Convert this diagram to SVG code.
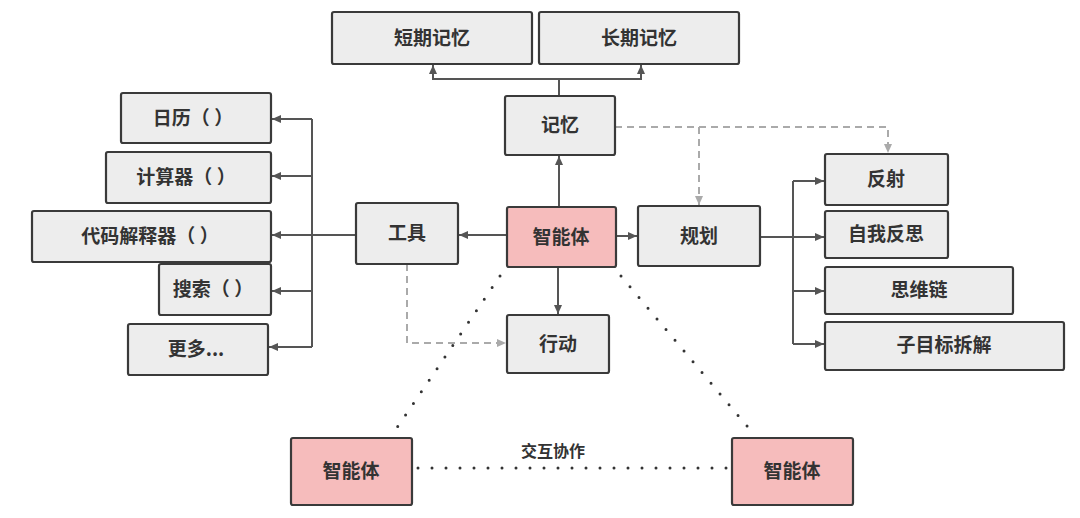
<svg xmlns="http://www.w3.org/2000/svg" width="1080" height="518" viewBox="0 0 1080 518">
<style>
.box{fill:#ededed;stroke:#3a3a3a;stroke-width:2.2}
.pink{fill:#f6bcbc;stroke:#3a3a3a;stroke-width:2.2}
text{font-family:"Noto Sans CJK SC","Noto Sans",sans-serif;font-size:19px;font-weight:600;fill:#333;text-anchor:middle}
.ln{fill:none;stroke:#555;stroke-width:2}
.dash{fill:none;stroke:#aaa;stroke-width:2;stroke-dasharray:7 5}
.dot{fill:none;stroke:#333;stroke-width:3;stroke-linecap:round;stroke-dasharray:0 14}
</style>
<defs>
<marker id="a" markerUnits="userSpaceOnUse" markerWidth="10" markerHeight="10" refX="9" refY="5" orient="auto"><path d="M0,1 L9,5 L0,9 Z" fill="#555"/></marker>
<marker id="ad" markerUnits="userSpaceOnUse" markerWidth="10" markerHeight="10" refX="9" refY="5" orient="auto"><path d="M0,1 L9,5 L0,9 Z" fill="#aaa"/></marker>
</defs>
<rect width="1080" height="518" fill="#fff"/>
<g id="connectors">
<path class="ln" d="M559,96 V79 H433 V65" marker-end="url(#a)"/>
<path class="ln" d="M559,79 H641 V65" marker-end="url(#a)"/>
<path class="ln" d="M559,207 V156" marker-end="url(#a)"/>
<path class="ln" d="M507,235 H459" marker-end="url(#a)"/>
<path class="ln" d="M616,236 H637" marker-end="url(#a)"/>
<path class="ln" d="M558,267 V314" marker-end="url(#a)"/>
<path class="ln" d="M356,235 H272" marker-end="url(#a)"/>
<path class="ln" d="M312,119 V347"/>
<path class="ln" d="M312,119 H272" marker-end="url(#a)"/>
<path class="ln" d="M312,176 H272" marker-end="url(#a)"/>
<path class="ln" d="M312,291 H272" marker-end="url(#a)"/>
<path class="ln" d="M312,347 H269" marker-end="url(#a)"/>
<path class="ln" d="M760,237 H824" marker-end="url(#a)"/>
<path class="ln" d="M793,181 V344"/>
<path class="ln" d="M793,181 H824" marker-end="url(#a)"/>
<path class="ln" d="M793,291 H824" marker-end="url(#a)"/>
<path class="ln" d="M793,344 H824" marker-end="url(#a)"/>
<path class="dash" d="M615,127 H888 V153" marker-end="url(#ad)"/>
<path class="dash" d="M699,127 V205" marker-end="url(#ad)"/>
<path class="dash" d="M407,264 V343 H506" marker-end="url(#ad)"/>
<path class="dot" d="M500,276 L394,432"/>
<path class="dot" d="M621,276 L752,432"/>
<path class="dot" d="M418,468 H728"/>
<text x="553" y="457" style="font-size:16px">交互协作</text>
</g>
<g id="n-short"><rect class="box" x="332" y="12" width="200" height="52" rx="2"/><text x="432" y="45">短期记忆</text></g>
<g id="n-long"><rect class="box" x="539" y="12" width="200" height="52" rx="2"/><text x="639" y="45">长期记忆</text></g>
<g id="n-memory"><rect class="box" x="505" y="96" width="110" height="59" rx="2"/><text x="560" y="132">记忆</text></g>
<g id="n-agent"><rect class="pink" x="507" y="207" width="109" height="60" rx="2"/><text x="561" y="244">智能体</text></g>
<g id="n-tools"><rect class="box" x="356" y="203" width="102" height="61" rx="2"/><text x="407" y="240">工具</text></g>
<g id="n-action"><rect class="box" x="507" y="315" width="102" height="58" rx="2"/><text x="558" y="351">行动</text></g>
<g id="n-plan"><rect class="box" x="638" y="206" width="122" height="60" rx="2"/><text x="699" y="243">规划</text></g>
<g id="n-cal"><rect class="box" x="121" y="93" width="150" height="50" rx="2"/><text x="193" y="125">日历（ ）</text></g>
<g id="n-calc"><rect class="box" x="106" y="152" width="165" height="51" rx="2"/><text x="186" y="184">计算器（ ）</text></g>
<g id="n-code"><rect class="box" x="32" y="211" width="239" height="51" rx="2"/><text x="150" y="243">代码解释器（ ）</text></g>
<g id="n-search"><rect class="box" x="159" y="264" width="112" height="51" rx="2"/><text x="213" y="296">搜索（ ）</text></g>
<g id="n-more"><rect class="box" x="128" y="324" width="140" height="51" rx="2"/><text x="196" y="356">更多...</text></g>
<g id="n-reflect"><rect class="box" x="825" y="154" width="123" height="51" rx="2"/><text x="886" y="186">反射</text></g>
<g id="n-selfreflect"><rect class="box" x="825" y="211" width="123" height="47" rx="2"/><text x="886" y="241">自我反思</text></g>
<g id="n-cot"><rect class="box" x="825" y="267" width="188" height="47" rx="2"/><text x="919" y="297">思维链</text></g>
<g id="n-subgoal"><rect class="box" x="825" y="322" width="239" height="48" rx="2"/><text x="944" y="352">子目标拆解</text></g>
<g id="n-agent-left"><rect class="pink" x="291" y="438" width="121" height="67" rx="2"/><text x="351" y="478">智能体</text></g>
<g id="n-agent-right"><rect class="pink" x="732" y="438" width="121" height="67" rx="2"/><text x="792" y="478">智能体</text></g>
</svg>
